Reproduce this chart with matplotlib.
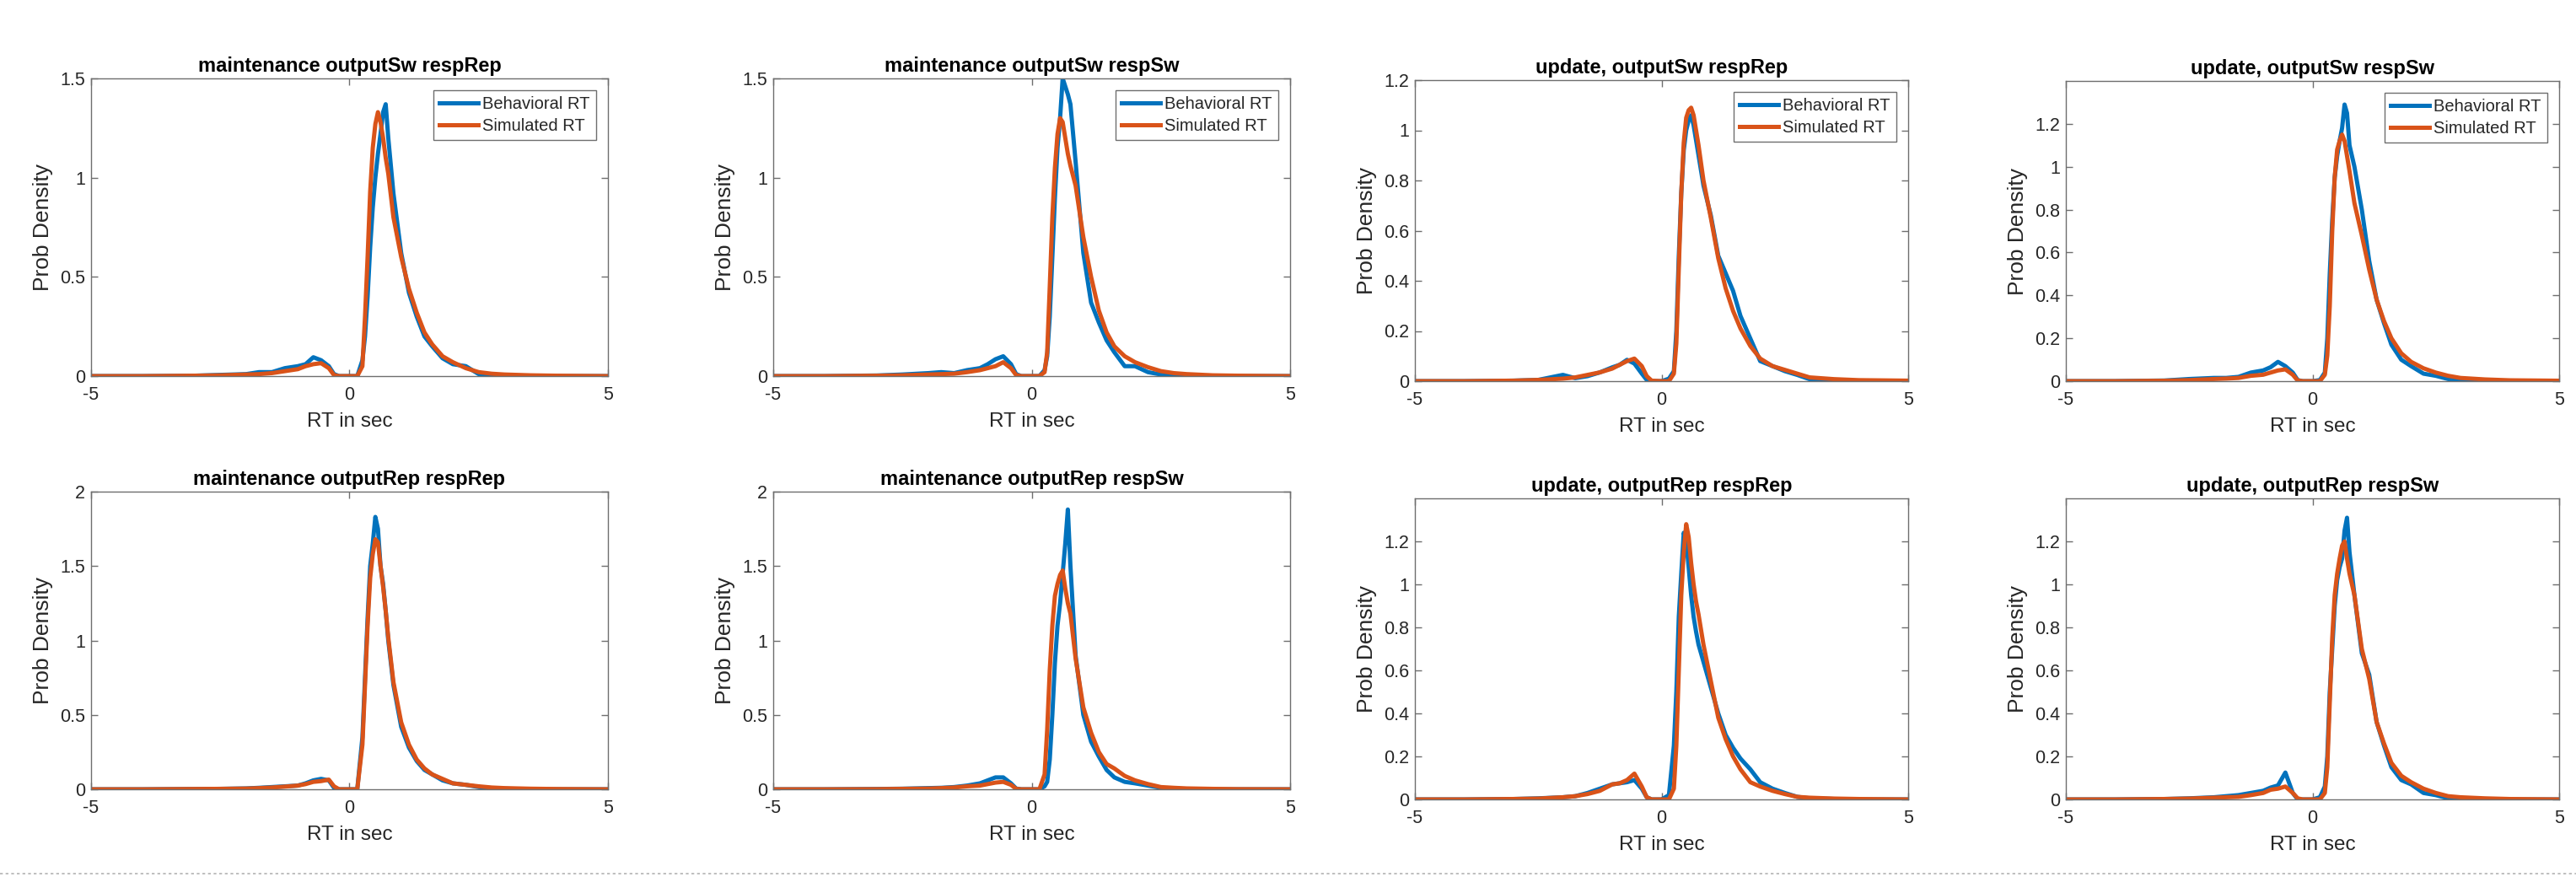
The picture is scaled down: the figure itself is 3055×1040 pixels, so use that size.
import matplotlib
matplotlib.use("Agg")
import matplotlib.pyplot as plt
from matplotlib.lines import Line2D
from matplotlib.ticker import FuncFormatter

plt.rcParams["font.family"] = ["Liberation Sans", "DejaVu Sans"]
plt.rcParams["axes.unicode_minus"] = False

# RT grid (sec) shared by all panels
x_rt = [-5, -4, -3, -2.5, -2, -1.75, -1.5, -1.25, -1.0, -0.85, -0.7, -0.55, -0.4, -0.3, -0.2,
        0.0, 0.15, 0.25, 0.3, 0.35, 0.4, 0.45, 0.5, 0.55, 0.6, 0.65, 0.7, 0.75,
        0.85, 1.0, 1.15, 1.3, 1.45, 1.6, 1.8, 2.0, 2.25, 2.5, 2.75, 3.0, 3.5, 4.0, 5.0]

titles = ["maintenance outputSw respRep", "maintenance outputSw respSw",
          "update, outputSw respRep", "update, outputSw respSw",
          "maintenance outputRep respRep", "maintenance outputRep respSw",
          "update, outputRep respRep", "update, outputRep respSw"]

# behavioral RT densities
beh_maint_sw_rep = [0, 0, 0.002, 0.006, 0.01, 0.02, 0.02, 0.04, 0.05, 0.06, 0.095, 0.08, 0.05, 0.01, 0,
                    0, 0, 0.08, 0.2, 0.4, 0.65, 0.85, 1.0, 1.12, 1.22, 1.33, 1.37, 1.2,
                    0.92, 0.62, 0.42, 0.3, 0.2, 0.15, 0.09, 0.06, 0.05, 0.01, 0.005, 0.003, 0, 0, 0]
beh_maint_sw_sw = [0, 0, 0.003, 0.008, 0.015, 0.02, 0.015, 0.03, 0.04, 0.06, 0.085, 0.1, 0.06, 0.01, 0,
                   0, 0, 0.03, 0.1, 0.3, 0.6, 0.9, 1.15, 1.3, 1.5, 1.46, 1.42, 1.37,
                   1.08, 0.62, 0.37, 0.27, 0.18, 0.12, 0.05, 0.05, 0.02, 0.008, 0.003, 0, 0, 0, 0]
beh_update_sw_rep = [0, 0, 0.002, 0.005, 0.025, 0.012, 0.02, 0.035, 0.055, 0.065, 0.085, 0.07, 0.03, 0.005, 0,
                     0, 0.01, 0.04, 0.2, 0.5, 0.75, 0.92, 1.0, 1.04, 1.06, 1.02, 0.96, 0.9,
                     0.78, 0.66, 0.5, 0.43, 0.36, 0.26, 0.17, 0.08, 0.06, 0.04, 0.025, 0.008, 0, 0, 0]
beh_update_sw_sw = [0, 0, 0.003, 0.01, 0.015, 0.015, 0.02, 0.04, 0.05, 0.065, 0.09, 0.07, 0.04, 0.005, 0,
                    0, 0.005, 0.04, 0.2, 0.5, 0.75, 0.95, 1.05, 1.12, 1.18, 1.29, 1.25, 1.1,
                    1.0, 0.8, 0.56, 0.38, 0.27, 0.17, 0.1, 0.07, 0.035, 0.025, 0.01, 0, 0, 0, 0]
beh_maint_rep_rep = [0, 0, 0.002, 0.003, 0.006, 0.01, 0.015, 0.02, 0.025, 0.04, 0.06, 0.07, 0.06, 0.01, 0,
                     0, 0, 0.35, 0.75, 1.15, 1.5, 1.65, 1.83, 1.75, 1.5, 1.38, 1.2, 1.0,
                     0.7, 0.42, 0.28, 0.19, 0.13, 0.1, 0.06, 0.04, 0.03, 0.015, 0.008, 0.004, 0, 0, 0]
beh_maint_rep_sw = [0, 0, 0.002, 0.004, 0.008, 0.01, 0.015, 0.025, 0.04, 0.06, 0.08, 0.08, 0.04, 0.005, 0,
                    0, 0, 0.02, 0.05, 0.2, 0.5, 0.85, 1.1, 1.25, 1.45, 1.65, 1.88, 1.5,
                    0.9, 0.5, 0.32, 0.22, 0.13, 0.08, 0.05, 0.04, 0.025, 0.01, 0.005, 0.002, 0, 0, 0]
beh_update_rep_rep = [0, 0, 0.002, 0.005, 0.01, 0.015, 0.03, 0.05, 0.07, 0.075, 0.08, 0.09, 0.05, 0.01, 0,
                      0, 0.02, 0.25, 0.5, 0.85, 1.05, 1.24, 1.2, 1.08, 0.95, 0.85, 0.78, 0.72,
                      0.64, 0.52, 0.4, 0.3, 0.24, 0.19, 0.14, 0.08, 0.05, 0.03, 0.012, 0.005, 0.002, 0, 0]
beh_update_rep_sw = [0, 0, 0.002, 0.005, 0.01, 0.015, 0.02, 0.03, 0.04, 0.055, 0.065, 0.125, 0.03, 0, 0,
                     0, 0.01, 0.06, 0.2, 0.5, 0.7, 0.9, 1.02, 1.08, 1.12, 1.25, 1.31, 1.15,
                     0.95, 0.68, 0.58, 0.36, 0.25, 0.15, 0.09, 0.07, 0.03, 0.02, 0.005, 0, 0, 0, 0]

# simulated RT densities
sim_maint_sw_rep = [0, 0, 0.002, 0.004, 0.008, 0.01, 0.015, 0.025, 0.035, 0.05, 0.06, 0.065, 0.04, 0.005, 0,
                    0, 0, 0.05, 0.3, 0.6, 0.93, 1.15, 1.27, 1.33, 1.28, 1.2, 1.1, 1.02,
                    0.8, 0.6, 0.44, 0.32, 0.22, 0.16, 0.1, 0.07, 0.04, 0.02, 0.012, 0.008, 0.004, 0.002, 0]
sim_maint_sw_sw = [0, 0, 0.002, 0.004, 0.008, 0.01, 0.012, 0.02, 0.03, 0.04, 0.05, 0.07, 0.04, 0.005, 0,
                   0, 0, 0.02, 0.12, 0.45, 0.8, 1.05, 1.22, 1.3, 1.28, 1.2, 1.12, 1.06,
                   0.96, 0.7, 0.5, 0.33, 0.22, 0.15, 0.1, 0.07, 0.045, 0.025, 0.015, 0.01, 0.004, 0.002, 0]
sim_update_sw_rep = [0, 0, 0.002, 0.005, 0.01, 0.015, 0.025, 0.035, 0.05, 0.065, 0.08, 0.09, 0.06, 0.02, 0.002,
                     0, 0, 0.03, 0.15, 0.45, 0.75, 0.95, 1.05, 1.08, 1.09, 1.06, 1.0, 0.94,
                     0.8, 0.65, 0.49, 0.37, 0.28, 0.21, 0.14, 0.09, 0.06, 0.045, 0.03, 0.015, 0.008, 0.004, 0.002]
sim_update_sw_sw = [0, 0, 0.002, 0.005, 0.01, 0.012, 0.015, 0.025, 0.03, 0.04, 0.05, 0.055, 0.03, 0.003, 0,
                    0, 0, 0.03, 0.12, 0.35, 0.7, 0.95, 1.08, 1.12, 1.15, 1.12, 1.05, 0.98,
                    0.83, 0.68, 0.52, 0.38, 0.28, 0.2, 0.13, 0.09, 0.06, 0.04, 0.025, 0.015, 0.008, 0.004, 0.002]
sim_maint_rep_rep = [0, 0, 0.002, 0.003, 0.005, 0.008, 0.012, 0.018, 0.025, 0.035, 0.05, 0.055, 0.065, 0.02, 0,
                     0, 0, 0.3, 0.7, 1.1, 1.42, 1.58, 1.68, 1.66, 1.5, 1.36, 1.2, 1.02,
                     0.72, 0.45, 0.3, 0.2, 0.14, 0.1, 0.07, 0.04, 0.03, 0.02, 0.012, 0.008, 0.004, 0.002, 0]
sim_maint_rep_sw = [0, 0, 0.001, 0.003, 0.005, 0.008, 0.012, 0.02, 0.025, 0.035, 0.045, 0.05, 0.03, 0.003, 0,
                    0, 0, 0.1, 0.4, 0.8, 1.1, 1.3, 1.38, 1.44, 1.47, 1.35, 1.25, 1.18,
                    0.88, 0.55, 0.38, 0.25, 0.17, 0.14, 0.09, 0.06, 0.035, 0.015, 0.01, 0.006, 0.003, 0.001, 0]
sim_update_rep_rep = [0, 0, 0.002, 0.004, 0.01, 0.015, 0.025, 0.04, 0.07, 0.075, 0.09, 0.12, 0.06, 0.01, 0,
                      0, 0, 0.05, 0.25, 0.6, 0.95, 1.15, 1.28, 1.22, 1.1, 1.0, 0.92, 0.86,
                      0.72, 0.55, 0.38, 0.28, 0.2, 0.14, 0.08, 0.06, 0.04, 0.025, 0.012, 0.008, 0.004, 0.002, 0]
sim_update_rep_sw = [0, 0, 0.002, 0.004, 0.008, 0.01, 0.012, 0.02, 0.03, 0.045, 0.05, 0.06, 0.03, 0.005, 0,
                     0, 0, 0.03, 0.15, 0.45, 0.75, 0.95, 1.05, 1.12, 1.18, 1.2, 1.12, 1.05,
                     0.95, 0.7, 0.56, 0.36, 0.26, 0.17, 0.11, 0.08, 0.05, 0.03, 0.015, 0.01, 0.005, 0.002, 0]

behavioral = [beh_maint_sw_rep, beh_maint_sw_sw, beh_update_sw_rep, beh_update_sw_sw,
              beh_maint_rep_rep, beh_maint_rep_sw, beh_update_rep_rep, beh_update_rep_sw]
simulated = [sim_maint_sw_rep, sim_maint_sw_sw, sim_update_sw_rep, sim_update_sw_sw,
             sim_maint_rep_rep, sim_maint_rep_sw, sim_update_rep_rep, sim_update_rep_sw]

y_tops = [1.5, 1.5, 1.2, 1.4, 2.0, 2.0, 1.4, 1.4]
y_ticks = [[0, 0.5, 1, 1.5], [0, 0.5, 1, 1.5],
           [0, 0.2, 0.4, 0.6, 0.8, 1, 1.2], [0, 0.2, 0.4, 0.6, 0.8, 1, 1.2],
           [0, 0.5, 1, 1.5, 2], [0, 0.5, 1, 1.5, 2],
           [0, 0.2, 0.4, 0.6, 0.8, 1, 1.2], [0, 0.2, 0.4, 0.6, 0.8, 1, 1.2]]

# axes boxes in pixels (left, right, top, bottom) on a 3055x1040 canvas
W, H = 3055, 1040
boxes = [(108, 721, 93, 446), (917, 1530, 93, 446), (1678, 2263, 95, 452), (2450, 3035, 96, 452),
         (108, 721, 583, 936), (917, 1530, 583, 936), (1678, 2263, 591, 948), (2450, 3035, 591, 948)]

BLUE = "#0072BD"
ORANGE = "#D95319"
AX_GRAY = "#6e6e6e"
TXT = "#262626"

fig = plt.figure(figsize=(W / 100, H / 100), dpi=100)

for i in range(8):
    l, r, t, b = boxes[i]
    ax = fig.add_axes([l / W, 1 - b / H, (r - l) / W, (b - t) / H])
    ax.plot(x_rt, behavioral[i], color=BLUE, lw=3.6, label="Behavioral RT")
    ax.plot(x_rt, simulated[i], color=ORANGE, lw=3.6, label="Simulated RT")
    ax.set_xlim(-5, 5)
    ax.set_ylim(0, y_tops[i])
    ax.set_xticks([-5, 0, 5])
    ax.set_yticks(y_ticks[i])
    ax.yaxis.set_major_formatter(FuncFormatter(lambda v, p: "%g" % v))
    ax.tick_params(direction="in", length=6, width=1, color=AX_GRAY, labelcolor=TXT,
                   labelsize=15.5, top=True, right=True)
    ax.tick_params(axis="x", pad=9)
    ax.tick_params(axis="y", pad=5)
    for s in ax.spines.values():
        s.set_color(AX_GRAY)
        s.set_linewidth(1)
    ax.set_title(titles[i], fontsize=17, fontweight="bold", color="black", pad=6)
    ax.set_xlabel("RT in sec", fontsize=17.5, color=TXT, labelpad=7)
    ax.set_ylabel("Prob Density", fontsize=19, color=TXT, labelpad=6)
    if i < 4:
        leg = ax.legend(loc="upper right", fontsize=14.5, handlelength=2.3, handletextpad=0.25,
                        borderpad=0.35, labelspacing=0.35, borderaxespad=0.7,
                        fancybox=False, framealpha=1)
        leg.get_frame().set_edgecolor(AX_GRAY)
        leg.get_frame().set_linewidth(1)
        for txt in leg.get_texts():
            txt.set_color(TXT)

# dotted separator along the bottom edge
fig.add_artist(Line2D([0, 1], [1 - 1036 / H, 1 - 1036 / H], transform=fig.transFigure,
                      color="#b4b4b4", lw=1.2, ls=(0, (2, 2))))

fig.savefig("out.png", dpi=100, facecolor="white")
